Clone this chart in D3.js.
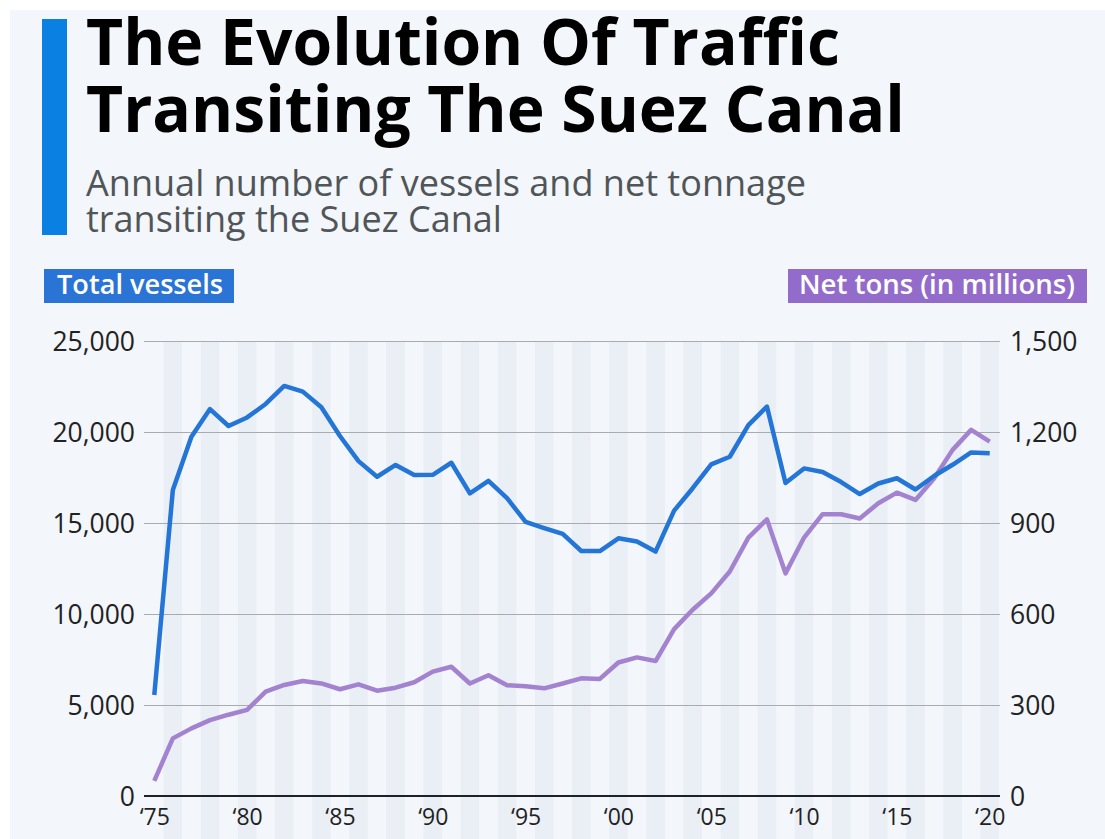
<!DOCTYPE html>
<html>
<head>
<meta charset="utf-8">
<script src="https://cdn.jsdelivr.net/npm/d3@7"></script>
<style>
  body { margin: 0; background: #ffffff; }
  svg { display: block; font-family: "Open Sans", sans-serif; }
</style>
</head>
<body>
<script>
// annual traffic, 1975-2020
var years = d3.range(1975, 2021);
var vessels = [5550, 16810, 19740, 21260, 20330, 20800, 21540, 22530, 22220, 21360,
  19780, 18400, 17540, 18190, 17640, 17650, 18310, 16630, 17320, 16370,
  15060, 14720, 14400, 13460, 13460, 14160, 13980, 13430, 15680, 16910,
  18220, 18640, 20380, 21400, 17200, 18000, 17800, 17250, 16590, 17170,
  17460, 16840, 17580, 18200, 18880, 18830];
var netTons = [50, 190, 223, 250, 268, 284, 344, 366, 379, 371,
  352, 368, 347, 357, 375, 410, 426, 371, 398, 365,
  362, 355, 371, 388, 386, 440, 457, 445, 550, 614,
  668, 740, 852, 912, 734, 852, 929, 929, 915, 965,
  1000, 976, 1047, 1141, 1207, 1168];

var leftTicks = [0, 5000, 10000, 15000, 20000, 25000];
var rightTicks = [0, 300, 600, 900, 1200, 1500];
var xTicks = [1975, 1980, 1985, 1990, 1995, 2000, 2005, 2010, 2015, 2020];

var W = 1105, H = 839;
var svg = d3.select("body").append("svg").attr("width", W).attr("height", H);

// card background
svg.append("rect").attr("x", 10).attr("y", 10).attr("width", W - 10).attr("height", H - 10)
  .attr("fill", "#f3f6fa");

// helper: pick a font size so text spans a given width
function fit(sel, target) {
  var fs = parseFloat(sel.attr("font-size"));
  var w = sel.node().getComputedTextLength();
  sel.attr("font-size", (fs * target / w).toFixed(2));
}

// header
svg.append("rect").attr("x", 42).attr("y", 19).attr("width", 25).attr("height", 216)
  .attr("fill", "#0b80e3");

var t1 = svg.append("text").attr("x", 86).attr("y", 65).attr("font-size", 60)
  .attr("font-weight", 700).attr("fill", "#000").text("The Evolution Of Traffic");
var t2 = svg.append("text").attr("x", 86).attr("y", 132).attr("font-size", 60)
  .attr("font-weight", 700).attr("fill", "#000").text("Transiting The Suez Canal");
fit(t2, 819);
t1.attr("font-size", t2.attr("font-size"));

var s1 = svg.append("text").attr("x", 86).attr("y", 196).attr("font-size", 28)
  .attr("fill", "#505558").text("Annual number of vessels and net tonnage");
fit(s1, 720);
svg.append("text").attr("x", 86).attr("y", 232).attr("font-size", s1.attr("font-size"))
  .attr("fill", "#505558").text("transiting the Suez Canal");

// scales
var x = d3.scaleLinear().domain([1974.5, 2020.5]).range([145, 999]);
var yL = d3.scaleLinear().domain([0, 25000]).range([796, 341]);
var yR = d3.scaleLinear().domain([0, 1500]).range([796, 341]);
var band = x(1976) - x(1975);

// alternating year stripes
svg.append("g").selectAll("rect")
  .data(years.filter(function(d) { return (d - 1975) % 2 === 1; }))
  .join("rect")
  .attr("x", function(d) { return x(d) - band / 2; })
  .attr("y", 342)
  .attr("width", band)
  .attr("height", H - 342)
  .attr("fill", "#eaeff6");

// gridlines
svg.append("g").selectAll("line")
  .data(leftTicks.slice(1))
  .join("line")
  .attr("x1", 144).attr("x2", 1000)
  .attr("y1", function(d) { return yL(d) + 0.5; })
  .attr("y2", function(d) { return yL(d) + 0.5; })
  .attr("stroke", "#a9abae").attr("stroke-width", 1);

// left axis
var leftAxis = svg.append("g").attr("transform", "translate(135,0)")
  .call(d3.axisLeft(yL).tickValues(leftTicks).tickSize(0).tickPadding(0)
    .tickFormat(d3.format(",")));
leftAxis.select(".domain").remove();
leftAxis.selectAll("text").attr("font-size", 26.5).attr("fill", "#222")
  .attr("font-family", "Open Sans, sans-serif").attr("dy", "0.36em");

// right axis
var rightAxis = svg.append("g").attr("transform", "translate(1010,0)")
  .call(d3.axisRight(yR).tickValues(rightTicks).tickSize(0).tickPadding(0)
    .tickFormat(d3.format(",")));
rightAxis.select(".domain").remove();
rightAxis.selectAll("text").attr("font-size", 26.5).attr("fill", "#222")
  .attr("font-family", "Open Sans, sans-serif").attr("dy", "0.36em");

// bottom axis
var bottomAxis = svg.append("g").attr("transform", "translate(0,796)")
  .call(d3.axisBottom(x).tickValues(xTicks).tickSize(0).tickPadding(13)
    .tickFormat(function(d) { return "\u2018" + String(d).slice(2); }));
bottomAxis.select(".domain").remove();
bottomAxis.selectAll("text").attr("font-size", 23).attr("fill", "#222")
  .attr("font-family", "Open Sans, sans-serif");

svg.append("line").attr("x1", 144).attr("x2", 1000).attr("y1", 796).attr("y2", 796)
  .attr("stroke", "#1e2226").attr("stroke-width", 2);

// lines
var lineL = d3.line().x(function(d, i) { return x(years[i]); }).y(function(d) { return yL(d); });
var lineR = d3.line().x(function(d, i) { return x(years[i]); }).y(function(d) { return yR(d); });

svg.append("path").attr("d", lineR(netTons))
  .attr("fill", "none").attr("stroke", "#a383cf").attr("stroke-width", 4.5)
  .attr("stroke-linejoin", "round");
svg.append("path").attr("d", lineL(vessels))
  .attr("fill", "none").attr("stroke", "#2375d8").attr("stroke-width", 4.5)
  .attr("stroke-linejoin", "round");

// series labels
svg.append("rect").attr("x", 44).attr("y", 269).attr("width", 190).attr("height", 34)
  .attr("fill", "#2a74d6");
var lv = svg.append("text").attr("x", 57).attr("y", 294).attr("font-size", 24)
  .attr("font-weight", 600).attr("fill", "#fff").text("Total vessels");
fit(lv, 166);

svg.append("rect").attr("x", 788).attr("y", 269).attr("width", 299).attr("height", 34)
  .attr("fill", "#936ccb");
var lt = svg.append("text").attr("x", 799).attr("y", 294).attr("font-size", 24)
  .attr("font-weight", 600).attr("fill", "#fff").text("Net tons (in millions)");
fit(lt, 276);
</script>
</body>
</html>
